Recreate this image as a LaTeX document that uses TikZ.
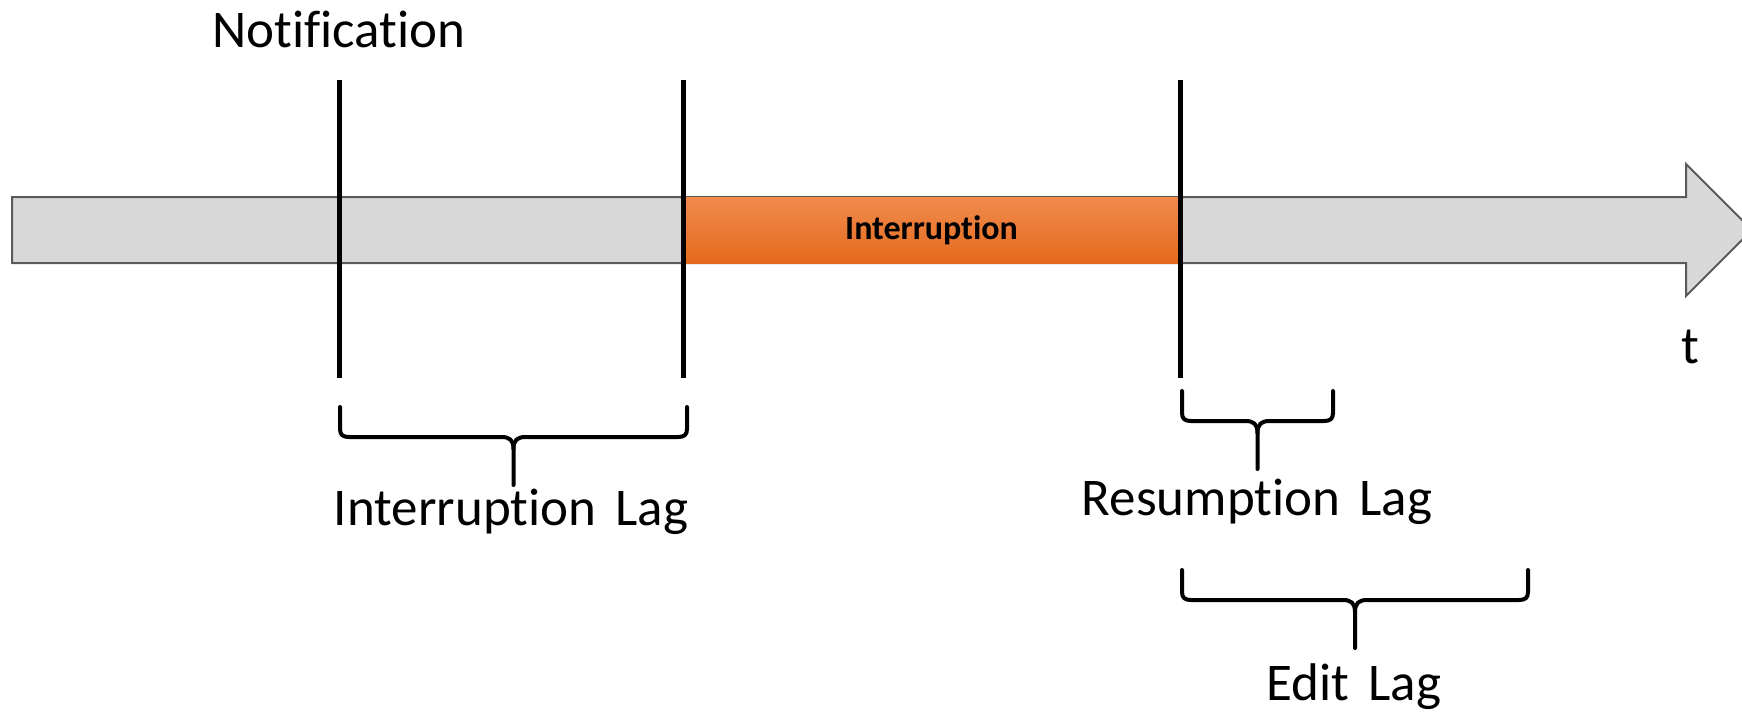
\documentclass[tikz,border=0pt]{standalone}
\usepackage{fontspec}
\setmainfont{Carlito}[Ligatures=NoCommon, WordSpace=1.6]
\definecolor{axisfill}{RGB}{216,216,216}
\definecolor{axisedge}{RGB}{90,90,90}
\definecolor{orangetop}{RGB}{241,138,76}
\definecolor{orangebot}{RGB}{228,106,28}
\begin{document}
\begin{tikzpicture}[x=1pt,y=-1pt,
  caption/.style={font=\fontsize{53}{62}\selectfont, anchor=base, inner sep=0pt},
  marker/.style={line width=5pt},
  braceline/.style={line width=4pt, line join=round, line cap=round},
  interrupt/.style={minimum width=495pt, minimum height=66pt, inner sep=0pt,
    top color=orangetop, bottom color=orangebot, draw=none,
    font=\bfseries\fontsize{34}{42}\selectfont},
  pics/lagbrace/.style={code={
    \draw[braceline] (0,0) -- (0,22) .. controls (0,28) and (3,30) .. (9,30)
      -- (#1-12,30) .. controls (#1-4,30) and (#1,33) .. (#1,42) -- (#1,78);
    \draw[braceline] (2*#1,0) -- (2*#1,22) .. controls (2*#1,28) and (2*#1-3,30) .. (2*#1-9,30)
      -- (#1+12,30) .. controls (#1+4,30) and (#1,33) .. (#1,42);
  }}
]
\useasboundingbox (0,0) rectangle (1742,715);

% time axis drawn as a block arrow
\draw[fill=axisfill, draw=axisedge, line width=2pt, line join=miter]
  (12,197) -- (1686,197) -- (1686,164) -- (1752,230) -- (1686,296)
  -- (1686,263) -- (12,263) -- cycle;

% interruption interval
\node[interrupt] (intr) at (931.5,230.5) {Interruption};

% event markers
\coordinate (m1t) at (339,80);  \coordinate (m1b) at (339,378);
\coordinate (m2t) at (683,80);  \coordinate (m2b) at (683,378);
\coordinate (m3t) at (1180,80); \coordinate (m3b) at (1180,378);
\draw[marker] (m1t) -- (m1b);
\draw[marker] (m2t) -- (m2b);
\draw[marker] (m3t) -- (m3b);

% labels
\node[caption] (notif) at (339,47) {Notification};
\node[caption] (tlab) at (1690,363) {t};

% lag braces
\pic at (340,407) {lagbrace=173.5};
\node[caption] (ilag) at (511,525) {Interruption Lag};
\pic at (1182,391) {lagbrace=75.5};
\node[caption] (rlag) at (1257,515) {Resumption Lag};
\pic at (1182,570) {lagbrace=173};
\node[caption] (elag) at (1354,700) {Edit Lag};
\end{tikzpicture}
\end{document}
